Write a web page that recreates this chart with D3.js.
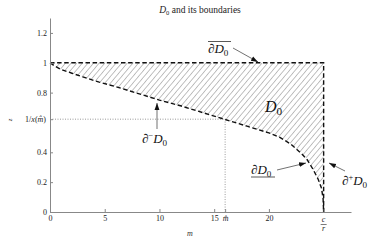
<!DOCTYPE html>
<html><head><meta charset="utf-8">
<script src="https://cdn.jsdelivr.net/npm/d3@7"></script>
<style>
body{margin:0;background:#fff;}
svg{opacity:0.999;}
text{font-family:"Liberation Serif","DejaVu Serif",serif;}
</style></head>
<body><svg id="c" width="389" height="243"></svg>
<script>
// data
const curveM = [0, 0.5, 1, 2, 3, 4.5, 6, 8, 10, 12, 14, 16, 18, 20, 21, 22, 23, 23.5, 24, 24.5, 24.8, 24.95, 25];
const curveZ = [1, 0.975, 0.955, 0.93, 0.905, 0.87, 0.84, 0.795, 0.75, 0.71, 0.665, 0.62, 0.575, 0.53, 0.5, 0.455, 0.39, 0.35, 0.29, 0.22, 0.16, 0.09, 0];
const cOverR = 25;
const mHat = 16;
const zHat = 0.622;
const xTicks = [0, 5, 10, 15, 20];
const yTicks = [0, 0.2, 0.4, 0.8, 1, 1.2];

const svg = d3.select("#c");
const x = d3.scaleLinear().domain([0, 27.5]).range([50, 351]);
const y = d3.scaleLinear().domain([0, 1.3]).range([212, 18]);

// hatch pattern
const defs = svg.append("defs");
const pat = defs.append("pattern").attr("id", "hatch").attr("patternUnits", "userSpaceOnUse")
  .attr("width", 4.3).attr("height", 6).attr("patternTransform", "rotate(40)");
pat.append("line").attr("x1", 0).attr("y1", 0).attr("x2", 0).attr("y2", 6)
  .attr("stroke", "#5a5a5a").attr("stroke-width", 0.8);
const mk = defs.append("marker").attr("id", "arr").attr("viewBox", "0 0 10 10")
  .attr("refX", 10).attr("refY", 5).attr("markerWidth", 7).attr("markerHeight", 7)
  .attr("orient", "auto").attr("markerUnits", "userSpaceOnUse");
mk.append("path").attr("d", "M0,1.5 L10,5 L0,8.5 z").attr("fill", "#111");

const pts = curveM.map((m, i) => [m, curveZ[i]]);
const region = pts.concat([[cOverR, 1], [0, 1]]);
const line = d3.line().x(d => x(d[0])).y(d => y(d[1]));

svg.append("path").attr("d", line(region) + "Z").attr("fill", "url(#hatch)").attr("stroke", "none");

// dotted guides
svg.append("path").attr("d", line([[0, zHat], [mHat, zHat], [mHat, 0]]))
  .attr("fill", "none").attr("stroke", "#999").attr("stroke-width", 1).attr("stroke-dasharray", "1,1.5");

// dashed boundaries
const dashStyle = s => s.attr("fill", "none").attr("stroke", "#111").attr("stroke-width", 1.4).attr("stroke-dasharray", "4.5,2.6");
dashStyle(svg.append("path").attr("d", line([[0, 1], [cOverR, 1], [cOverR, 0]])));
dashStyle(svg.append("path").attr("d", line(pts)));

// axes
const gx = svg.append("g").attr("transform", `translate(0,${y(0)})`)
  .call(d3.axisBottom(x).tickValues(xTicks.concat([mHat, cOverR])).tickSizeInner(-3).tickSizeOuter(0)
    .tickFormat(d => d === mHat ? "m̂" : (d === cOverR ? "" : d3.format("d")(d))));
gx.select(".domain").attr("stroke", "#888");
gx.selectAll(".tick line").attr("stroke", "#888");
gx.selectAll(".tick text").attr("font-size", 8).attr("fill", "#222").attr("font-family", "Liberation Serif").attr("dy", "0.8em").attr("y", 3);
gx.selectAll(".tick text").filter(d => d === mHat).attr("font-style", "italic");
// c/r fraction
svg.append("text").attr("x", x(cOverR)).attr("y", 222).attr("text-anchor", "middle").attr("font-size", 8).attr("font-style", "italic").attr("fill", "#222").text("c");
svg.append("line").attr("x1", x(cOverR) - 3).attr("x2", x(cOverR) + 3).attr("y1", 224.5).attr("y2", 224.5).attr("stroke", "#222").attr("stroke-width", 0.6);
svg.append("text").attr("x", x(cOverR)).attr("y", 231).attr("text-anchor", "middle").attr("font-size", 8).attr("font-style", "italic").attr("fill", "#222").text("r");

const gy = svg.append("g").attr("transform", `translate(${x(0)},0)`)
  .call(d3.axisLeft(y).tickValues(yTicks.concat([zHat])).tickSizeInner(-3).tickSizeOuter(0)
    .tickFormat(d => d === zHat ? "" : (d === 0 || d === 1 ? d3.format("d")(d) : d3.format(".1f")(d))));
gy.select(".domain").attr("stroke", "#888");
gy.selectAll(".tick line").attr("stroke", "#888");
gy.selectAll(".tick text").attr("font-size", 8).attr("fill", "#222").attr("x", -3).attr("font-family", "Liberation Serif");
const zl = svg.append("text").attr("x", 46).attr("y", y(zHat)).attr("dy", "0.32em").attr("text-anchor", "end").attr("font-size", 8).attr("fill", "#222");
zl.append("tspan").text("1/");
zl.append("tspan").attr("font-style", "italic").text("x");
zl.append("tspan").text("(");
zl.append("tspan").attr("font-style", "italic").text("m̂");
zl.append("tspan").text(")");

// axis labels
svg.append("text").attr("transform", "translate(12,120) rotate(-90)").attr("text-anchor", "middle").attr("font-size", 7).attr("font-style", "italic").attr("fill", "#333").text("z");
svg.append("text").attr("x", 190).attr("y", 236).attr("text-anchor", "middle").attr("font-size", 8).attr("font-style", "italic").attr("fill", "#333").text("m");

// title
const t = svg.append("text").attr("x", 200).attr("y", 13).attr("text-anchor", "middle").attr("font-size", 9.5).attr("fill", "#222");
t.append("tspan").attr("font-style", "italic").text("D");
t.append("tspan").attr("font-size", 6.5).attr("dy", 1.8).text("0");
t.append("tspan").attr("dy", -1.8).text(" and its boundaries");

// annotation helper
function dLabel(xp, yp, size, prefix, sup) {
  const g = svg.append("text").attr("x", xp).attr("y", yp).attr("font-size", size).attr("fill", "#111");
  if (prefix) g.append("tspan").attr("font-style", "italic").text(prefix);
  if (sup) g.append("tspan").attr("font-size", size * 0.65).attr("dy", -size * 0.35).text(sup);
  g.append("tspan").attr("font-style", "italic").attr("dy", sup ? size * 0.35 : 0).text("D");
  g.append("tspan").attr("font-size", size * 0.7).attr("dy", size * 0.2).text("0");
  return g;
}
function arrow(x1, y1, x2, y2) {
  svg.append("line").attr("x1", x1).attr("y1", y1).attr("x2", x2).attr("y2", y2)
    .attr("stroke", "#333").attr("stroke-width", 0.7).attr("marker-end", "url(#arr)");
}

// overline ∂D0
dLabel(208, 53, 13, "∂", null);
svg.append("line").attr("x1", 208).attr("x2", 231).attr("y1", 41.5).attr("y2", 41.5).attr("stroke", "#111").attr("stroke-width", 0.7);
arrow(233, 48, 258, 62);

// big D0
dLabel(265, 112, 16, null, null);

// ∂- D0
dLabel(142, 143, 13, "∂", "−");
arrow(157, 129, 157, 103);

// underline ∂D0
dLabel(251, 174, 13, "∂", null);
svg.append("line").attr("x1", 251).attr("x2", 275).attr("y1", 177).attr("y2", 177).attr("stroke", "#111").attr("stroke-width", 0.7);
arrow(277, 170, 306, 163);

// ∂+ D0
dLabel(342, 185, 13, "∂", "+");
arrow(345, 171, 329, 163);
</script></body></html>
